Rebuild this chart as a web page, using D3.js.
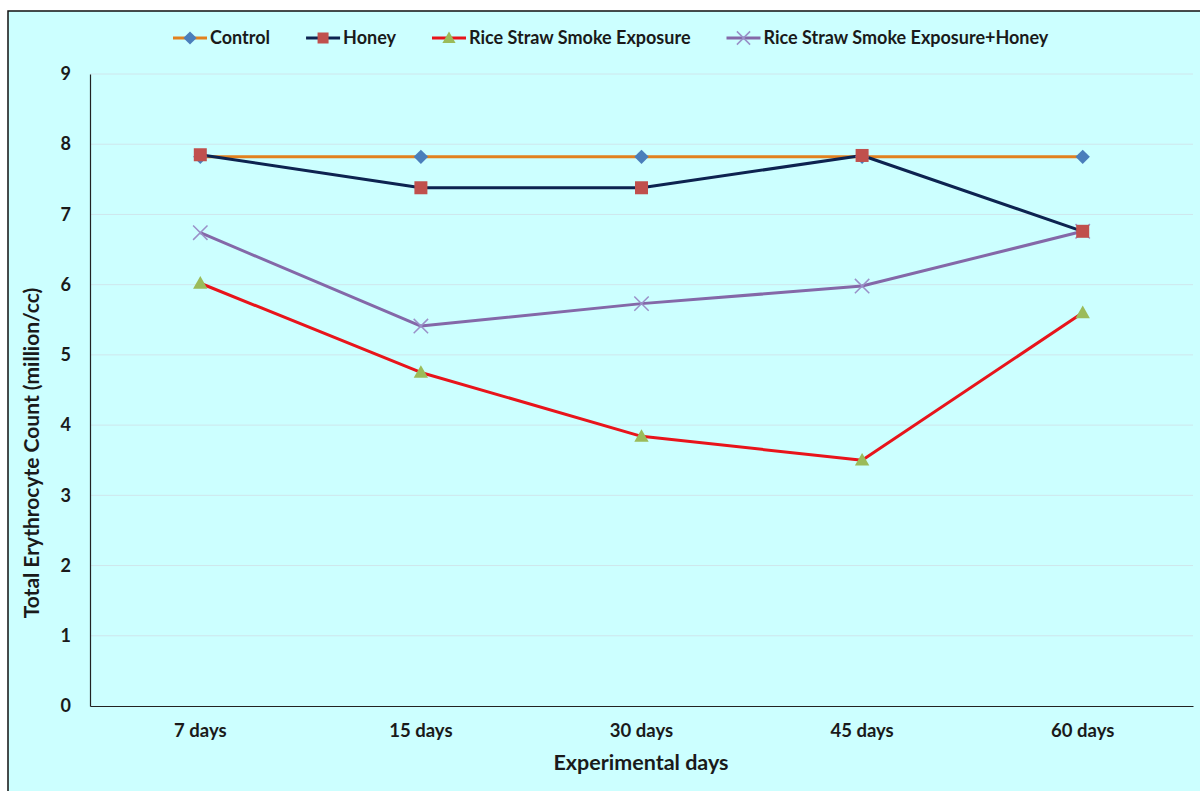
<!DOCTYPE html>
<html>
<head>
<meta charset="utf-8">
<script src="https://cdn.jsdelivr.net/npm/d3@7"></script>
<style>
  html, body { margin: 0; padding: 0; background: #ffffff; }
  svg { display: block; }
  text { font-family: Lato, "Open Sans", sans-serif; font-weight: bold; fill: #1a1a1a; }
</style>
</head>
<body>
<svg id="chart" width="1200" height="791"></svg>
<script>
// データ
const categories = ["7 days", "15 days", "30 days", "45 days", "60 days"];
const seriesNames = ["Control", "Honey", "Rice Straw Smoke Exposure", "Rice Straw Smoke Exposure+Honey"];
const controlValues = [7.82, 7.82, 7.82, 7.82, 7.82];
const honeyValues = [7.85, 7.38, 7.38, 7.84, 6.76];
const smokeValues = [6.02, 4.75, 3.84, 3.5, 5.6];
const smokeHoneyValues = [6.74, 5.41, 5.73, 5.98, 6.76];
const yTicks = [0, 1, 2, 3, 4, 5, 6, 7, 8, 9];

const seriesValues = [controlValues, honeyValues, smokeValues, smokeHoneyValues];
const lineColors = ["#E2811F", "#0D2350", "#E8141B", "#8468A8"];
const markerColors = ["#4A7EBB", "#C0504D", "#9BBB59", "#9A90C8"];
const markerTypes = ["diamond", "square", "triangle", "cross"];
// マーカーの描画順 (Honey を最前面に)
const markerOrder = [0, 2, 3, 1];

const svg = d3.select("#chart");
const margin = {top: 74, right: 7, bottom: 85, left: 90};
const width = 1200, height = 791;

// 背景と枠線
svg.append("rect")
  .attr("x", 8).attr("y", 11)
  .attr("width", 1200).attr("height", 800)
  .attr("fill", "#CCFFFF")
  .attr("stroke", "#111").attr("stroke-width", 1.5);

// スケール
const x = d3.scaleBand()
  .domain(categories)
  .range([margin.left, width - margin.right]);
const y = d3.scaleLinear()
  .domain([0, 9])
  .range([height - margin.bottom, margin.top]);

// 横の罫線
svg.append("g")
  .selectAll("line")
  .data(yTicks.slice(1))
  .enter()
  .append("line")
  .attr("x1", margin.left).attr("x2", width - margin.right)
  .attr("y1", d => y(d)).attr("y2", d => y(d))
  .attr("stroke", "#CFE6EC").attr("stroke-width", 1);

// y 軸
const yAxis = svg.append("g")
  .attr("transform", `translate(${margin.left},0)`)
  .call(d3.axisLeft(y).tickValues(yTicks).tickSize(0).tickPadding(19).tickFormat(d3.format("d")));
yAxis.select("path").attr("stroke", "#222").attr("stroke-width", 1.2);
yAxis.selectAll("text").style("font-size", "18px").attr("font-family", null);

// x 軸
const xAxis = svg.append("g")
  .attr("transform", `translate(0,${height - margin.bottom})`)
  .call(d3.axisBottom(x).tickSize(0).tickPadding(18));
xAxis.select("path").attr("stroke", "#222").attr("stroke-width", 1.2);
xAxis.selectAll("text").style("font-size", "18.5px").attr("font-family", null);

// 軸タイトル
svg.append("text")
  .attr("x", 641)
  .attr("y", 770)
  .attr("text-anchor", "middle")
  .style("font-size", "21.5px")
  .text("Experimental days");
svg.append("text")
  .attr("transform", "translate(39,453) rotate(-90)")
  .attr("text-anchor", "middle")
  .style("font-size", "21px")
  .text("Total Erythrocyte Count (million/cc)");

// マーカー描画
function drawMarker(g, type, cx, cy, color, s) {
  if (type === "diamond") {
    g.append("path")
      .attr("d", `M${cx},${cy - s * 0.6}L${cx + s * 0.6},${cy}L${cx},${cy + s * 0.6}L${cx - s * 0.6},${cy}Z`)
      .attr("fill", color);
  } else if (type === "square") {
    g.append("rect")
      .attr("x", cx - s / 2).attr("y", cy - s / 2)
      .attr("width", s).attr("height", s)
      .attr("fill", color);
  } else if (type === "triangle") {
    g.append("path")
      .attr("d", `M${cx},${cy - s * 0.6}L${cx + s * 0.6},${cy + s * 0.45}L${cx - s * 0.6},${cy + s * 0.45}Z`)
      .attr("fill", color);
  } else {
    const h = s * 0.6;
    g.append("path")
      .attr("d", `M${cx - h},${cy - h}L${cx + h},${cy + h}M${cx - h},${cy + h}L${cx + h},${cy - h}`)
      .attr("stroke", color).attr("stroke-width", 1.5).attr("fill", "none");
  }
}

// 折れ線
const line = d3.line()
  .x((d, i) => x(categories[i]) + x.bandwidth() / 2)
  .y(d => y(d));

seriesValues.forEach((vals, k) => {
  svg.append("path")
    .datum(vals)
    .attr("d", line)
    .attr("fill", "none")
    .attr("stroke", lineColors[k])
    .attr("stroke-width", 3)
    .attr("stroke-linejoin", "round");
});

markerOrder.forEach(k => {
  const g = svg.append("g");
  seriesValues[k].forEach((v, i) => {
    const size = markerTypes[k] === "square" ? 13 : 12;
    drawMarker(g, markerTypes[k], x(categories[i]) + x.bandwidth() / 2, y(v), markerColors[k], size);
  });
});

// 凡例
const legend = svg.append("g").attr("transform", "translate(173,38)");
let lx = 0;
seriesNames.forEach((name, k) => {
  const item = legend.append("g").attr("transform", `translate(${lx},0)`);
  const lineLen = 34;
  item.append("line")
    .attr("x1", 0).attr("x2", lineLen)
    .attr("y1", 0).attr("y2", 0)
    .attr("stroke", lineColors[k]).attr("stroke-width", 3);
  drawMarker(item, markerTypes[k], lineLen / 2, 0, markerColors[k], 11);
  const t = item.append("text")
    .attr("x", lineLen + 3)
    .attr("y", 0)
    .attr("dy", "0.35em")
    .style("font-size", "18px")
    .text(name);
  lx += lineLen + 3 + t.node().getComputedTextLength() + 36;
});
</script>
</body>
</html>
